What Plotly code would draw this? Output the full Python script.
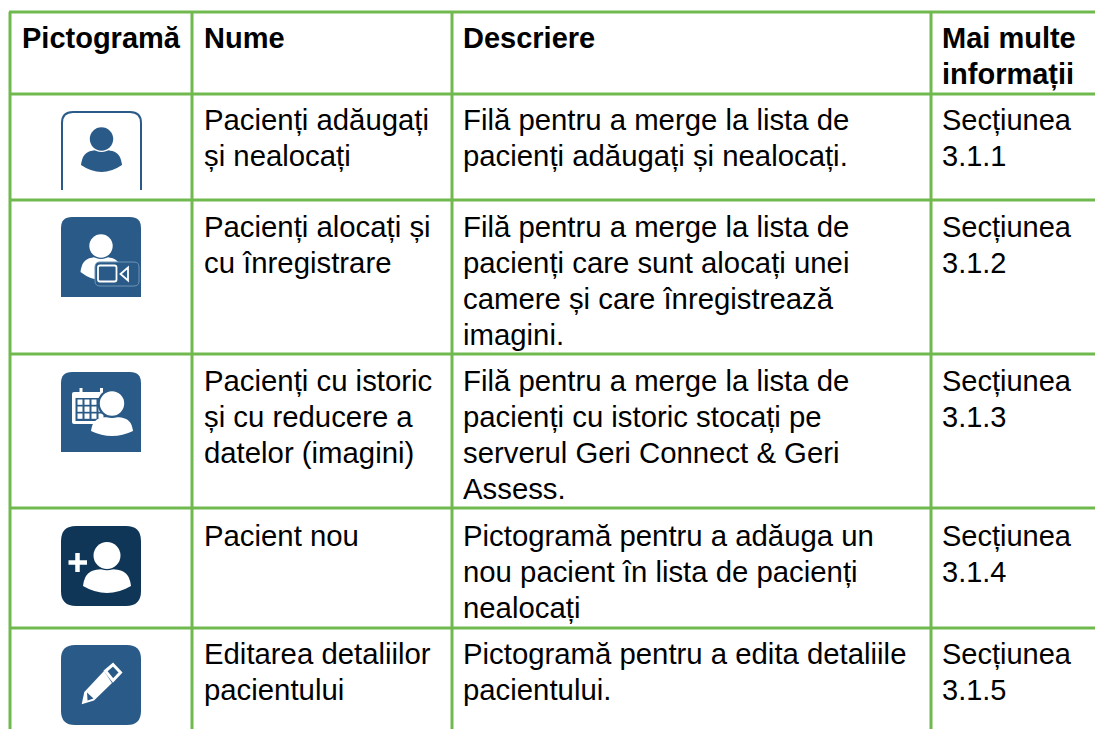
import plotly.graph_objects as go

W, H = 1095, 729
GREEN = "#70B94F"
BLUE = "#2A5B88"
NAVY = "#0F3557"

headers = ["Pictogramă", "Nume", "Descriere", ["Mai multe", "informații"]]
names = [
    ["Pacienți adăugați", "și nealocați"],
    ["Pacienți alocați și", "cu înregistrare"],
    ["Pacienți cu istoric", "și cu reducere a", "datelor (imagini)"],
    ["Pacient nou"],
    ["Editarea detaliilor", "pacientului"],
]
descriptions = [
    ["Filă pentru a merge la lista de", "pacienți adăugați și nealocați."],
    ["Filă pentru a merge la lista de", "pacienți care sunt alocați unei", "camere și care înregistrează", "imagini."],
    ["Filă pentru a merge la lista de", "pacienți cu istoric stocați pe", "serverul Geri Connect & Geri", "Assess."],
    ["Pictogramă pentru a adăuga un", "nou pacient în lista de pacienți", "nealocați"],
    ["Pictogramă pentru a edita detaliile", "pacientului."],
]
sections = [
    ["Secțiunea", "3.1.1"],
    ["Secțiunea", "3.1.2"],
    ["Secțiunea", "3.1.3"],
    ["Secțiunea", "3.1.4"],
    ["Secțiunea", "3.1.5"],
]

col_edges = [10, 192, 452, 931]
row_edges = [12, 94, 200, 354, 508, 628]
text_x = [22, 204, 463, 942]
first_line_y = [120, 227, 381, 536, 654]
LINE = 36
FS = 29.33
FS_B = 29
FS_S = 29
BODY_DY = -1

fig = go.Figure()
shapes, ann = [], []


def label(x, y, s, bold=False, size=FS):
    ann.append(dict(x=x, y=y, text=f"<b>{s}</b>" if bold else s, showarrow=False,
                    xanchor="left", yanchor="middle", xref="x", yref="y", borderpad=0, borderwidth=0,
                    font=dict(family="Liberation Sans, Arial, sans-serif", size=size, color="#000000"),
                    align="left"))


def line(x0, y0, x1, y1, color=GREEN, w=3):
    shapes.append(dict(type="line", x0=x0, y0=y0, x1=x1, y1=y1, xref="x", yref="y",
                       line=dict(color=color, width=w)))


def path(d, fill=None, stroke=None, w=0):
    shapes.append(dict(type="path", path=d, xref="x", yref="y",
                       fillcolor=fill if fill else "rgba(0,0,0,0)",
                       line=dict(color=stroke if stroke else "rgba(0,0,0,0)", width=w)))


def circle(cx, cy, r, fill):
    shapes.append(dict(type="circle", x0=cx - r, x1=cx + r, y0=cy - r, y1=cy + r, xref="x", yref="y",
                       fillcolor=fill, line=dict(width=0)))


def rrect(x0, y0, x1, y1, r):
    return (f"M{x0+r},{y0} L{x1-r},{y0} Q{x1},{y0} {x1},{y0+r} L{x1},{y1-r} Q{x1},{y1} {x1-r},{y1} "
            f"L{x0+r},{y1} Q{x0},{y1} {x0},{y1-r} L{x0},{y0+r} Q{x0},{y0} {x0+r},{y0} Z")


def tile(x, y, fill, s=80, r=11, bottom_round=True):
    b = y + s
    if bottom_round:
        d = rrect(x, y, x + s, b, r)
    else:
        d = f"M{x+r},{y} L{x+s-r},{y} Q{x+s},{y} {x+s},{y+r} L{x+s},{b} L{x},{b} L{x},{y+r} Q{x},{y} {x+r},{y} Z"
    path(d, fill=fill)


def bust(cx, cy, r, wb, top, tip, bot, fill, gap, bg):
    """Head circle on a shoulder dome, with a ring of background between them."""
    d = (f"M{cx-wb},{tip} C{cx-wb*0.92},{top+(tip-top)*0.2} {cx-wb*0.7},{top} {cx},{top} "
         f"C{cx+wb*0.7},{top} {cx+wb*0.92},{top+(tip-top)*0.2} {cx+wb},{tip} "
         f"Q{cx},{2*bot-tip} {cx-wb},{tip} Z")
    path(d, fill=fill)
    circle(cx, cy, r + gap, bg)
    circle(cx, cy, r, fill)


# ---- grid
for y in row_edges:
    line(9, y, W, y)
for x in col_edges:
    line(x, row_edges[0], x, H)

# ---- text
for x, h in zip(text_x, headers):
    for i, s in enumerate(h if isinstance(h, list) else [h]):
        label(x, 38 + i * LINE, s, bold=True, size=FS_B)
for r in range(5):
    for x, cell, size, dy in zip(text_x[1:], (names[r], descriptions[r], sections[r]),
                                 (FS, FS, FS_S), (BODY_DY, BODY_DY, 0)):
        for i, s in enumerate(cell):
            label(x, first_line_y[r] + i * LINE + dy, s, size=size)

# ---- icon 1: outline tab
x, y = 62, 112
path(f"M{x},{y+78} L{x},{y+11} Q{x},{y} {x+11},{y} L{x+68},{y} Q{x+79},{y} {x+79},{y+11} L{x+79},{y+78}",
     stroke=BLUE, w=2)
bust(101.5, 139, 11.7, 20.5, 150, 165, 172, BLUE, 1.3, "#FFFFFF")

# ---- icon 2: recording
tile(61, 217, BLUE, bottom_round=False)
bust(101, 246, 11.7, 20.5, 257, 272, 280, "#FFFFFF", 1.3, BLUE)
shapes.append(dict(type="path", xref="x", yref="y", path=rrect(95, 262, 139, 286, 5),
                   fillcolor=BLUE, line=dict(color="#6F93B3", width=1)))
shapes.append(dict(type="path", xref="x", yref="y", path=rrect(98, 265.5, 116.5, 281.5, 2),
                   fillcolor=BLUE, line=dict(color="#FFFFFF", width=1.8)))
path("M120.5,274 L128,267.5 L128,280.5 Z", stroke="#FFFFFF", w=1.8, fill=BLUE)

# ---- icon 3: calendar and patient
tile(61, 372, BLUE, bottom_round=False)
path(rrect(72, 392, 102, 424, 2), fill="#FFFFFF")
path("M75.5,398 L102,398 L102,421 L75.5,421 Z", fill=BLUE)
for i in range(3):
    for j in range(4):
        shapes.append(dict(type="rect", xref="x", yref="y", x0=77.5 + j * 7, x1=82.5 + j * 7,
                           y0=399.5 + i * 7, y1=404.8 + i * 7, fillcolor="#FFFFFF", line=dict(width=0)))
line(81, 388, 81, 397, color="#FFFFFF", w=3)
line(101.5, 388, 101.5, 396, color="#FFFFFF", w=3)
bust(112, 403.5, 12.2, 21, 417, 431, 436, "#FFFFFF", 2.3, BLUE)

# ---- icon 4: new patient
tile(61, 526, NAVY, r=15)
bust(107, 555.5, 13.5, 24, 569, 586, 593, "#FFFFFF", 1.3, NAVY)
line(68.5, 562.5, 87, 562.5, color="#FFFFFF", w=4.5)
line(77.5, 553, 77.5, 572, color="#FFFFFF", w=4.5)

# ---- icon 5: pencil
tile(61, 645, BLUE, r=14)
path("M81.7,704.3 L84.3,692 L104,671 L112,683 L94,700.5 Z", fill="#FFFFFF")
path("M87,692.5 L93.5,698.5 L87.5,700.5 Z", fill=BLUE)
path("M105.5,671 L113,664.5 L120.5,672.5 L113,680.5 Z", fill=BLUE, stroke="#FFFFFF", w=3)

fig.update_layout(
    width=W, height=H, margin=dict(l=0, r=0, t=0, b=0),
    paper_bgcolor="#FFFFFF", plot_bgcolor="#FFFFFF", showlegend=False,
    xaxis=dict(range=[0, W], visible=False, fixedrange=True),
    yaxis=dict(range=[H, 0], visible=False, fixedrange=True),
    shapes=shapes, annotations=ann,
)
fig.write_html("out.html", config=dict(displayModeBar=False),
               post_script="document.body.style.margin='0';document.body.style.overflow='hidden';")
